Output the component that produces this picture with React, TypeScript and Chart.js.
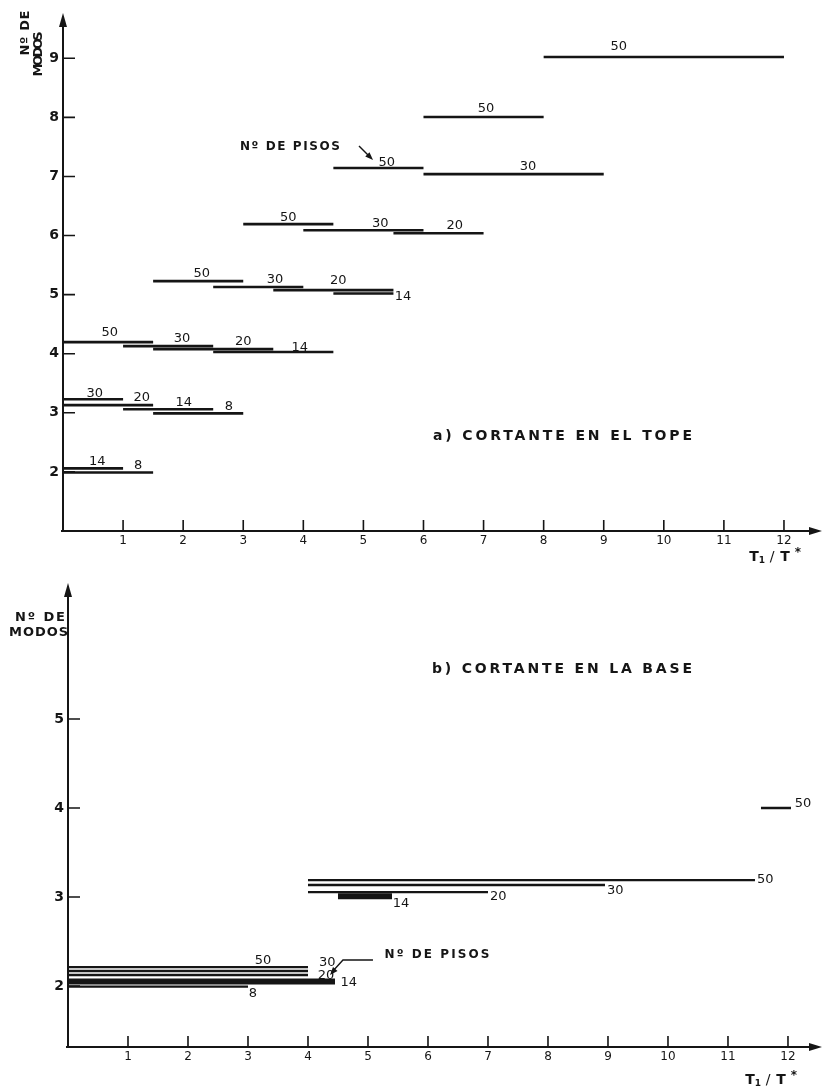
import React, { useEffect, useRef } from "react";
import { Chart, registerables } from "chart.js";

Chart.register(...registerables);

// A segment is [drawn level on the "Nº de modos" axis, T1/T* from, T1/T* to].
type Seg = [number, number, number];
// A tag is [text, T1/T*, level].
type Tag = [string, number, number];

const INK = "#151515";
const FONT = "'DejaVu Sans', 'Liberation Sans', sans-serif";

const floors = ["50", "30", "20", "14", "8"];
const periodTicks = [1, 2, 3, 4, 5, 6, 7, 8, 9, 10, 11, 12];
const topeModeTicks = [2, 3, 4, 5, 6, 7, 8, 9];
const baseModeTicks = [2, 3, 4, 5];

// a) Cortante en el tope: modes needed per building height
const tope50: Seg[] = [[4.196, 0, 1.5], [5.229, 1.5, 3], [6.194, 3, 4.5], [7.142, 4.5, 6], [8.006, 6, 8], [9.022, 8, 12]];
const tope30: Seg[] = [[3.23, 0, 1], [4.128, 1, 2.5], [5.13, 2.5, 4], [6.09, 4, 6], [7.04, 6, 9]];
const tope20: Seg[] = [[3.13, 0, 1.5], [4.077, 1.5, 3.5], [5.076, 3.5, 5.5], [6.04, 5.5, 7]];
const tope14: Seg[] = [[2.06, 0, 1], [3.06, 1, 2.5], [4.03, 2.5, 4.5], [5.02, 4.5, 5.5]];
const tope8: Seg[] = [[1.99, 0, 1.5], [2.99, 1.5, 3]];

const topeTags: Tag[] = [
  ["50", 9.25, 9.19], ["50", 7.04, 8.14], ["50", 5.39, 7.24], ["30", 7.74, 7.17],
  ["50", 3.75, 6.31], ["30", 5.28, 6.21], ["20", 6.52, 6.16],
  ["50", 2.31, 5.35], ["30", 3.53, 5.26], ["20", 4.58, 5.23], ["14", 5.66, 4.97],
  ["50", 0.78, 4.35], ["30", 1.98, 4.26], ["20", 3.0, 4.2], ["14", 3.94, 4.11],
  ["30", 0.53, 3.33], ["20", 1.31, 3.26], ["14", 2.01, 3.18], ["8", 2.76, 3.11],
  ["14", 0.57, 2.18], ["8", 1.25, 2.11],
];

// b) Cortante en la base
const base50: Seg[] = [[2.213, 0, 4], [3.19, 4, 11.45], [4.0, 11.55, 12.05]];
const base30: Seg[] = [[2.169, 0, 4], [3.135, 4, 8.95]];
const base20: Seg[] = [[2.124, 0, 4], [3.056, 4, 7]];
const base14: Seg[] = [[2.052, 0, 4.45], [3.01, 4.5, 5.4]];
const base8: Seg[] = [[1.993, 0, 3]];

const baseTags: Tag[] = [
  ["50", 3.25, 2.29], ["30", 4.32, 2.258], ["20", 4.3, 2.115], ["14", 4.68, 2.034], ["8", 3.08, 1.92],
  ["50", 11.62, 3.19], ["30", 9.12, 3.075], ["20", 7.17, 3.01], ["14", 5.55, 2.93],
  ["50", 12.25, 4.045],
];

function segPoints(segs: Seg[]) {
  const pts: { x: number; y: number | null }[] = [];
  for (const [lv, a, b] of segs) {
    pts.push({ x: a, y: lv }, { x: b, y: lv }, { x: b, y: null });
  }
  return pts;
}

function drawSpaced(ctx: CanvasRenderingContext2D, text: string, cx: number, cy: number, width: number, font: string, angle = 0) {
  ctx.save();
  ctx.font = font;
  (ctx as any).letterSpacing = "0px";
  const w0 = ctx.measureText(text).width;
  const n = [...text].length;
  const sp = n > 1 ? (width - w0) / (n - 1) : 0;
  (ctx as any).letterSpacing = `${sp}px`;
  ctx.translate(cx, cy);
  ctx.rotate(angle);
  ctx.textAlign = "left";
  ctx.textBaseline = "middle";
  ctx.fillText(text, -width / 2, 0);
  ctx.restore();
}

function arrowHead(ctx: CanvasRenderingContext2D, tx: number, ty: number, fx: number, fy: number, len: number, half: number) {
  const ang = Math.atan2(ty - fy, tx - fx);
  const c = Math.cos(ang), s = Math.sin(ang);
  ctx.beginPath();
  ctx.moveTo(tx, ty);
  ctx.lineTo(tx - len * c + half * s, ty - len * s - half * c);
  ctx.lineTo(tx - len * c - half * s, ty - len * s + half * c);
  ctx.closePath();
  ctx.fill();
}

function drawRatioTitle(ctx: CanvasRenderingContext2D, x0: number, cy: number) {
  ctx.save();
  ctx.fillStyle = INK;
  ctx.textAlign = "center";
  ctx.textBaseline = "middle";
  ctx.font = `bold 14px ${FONT}`;
  ctx.fillText("T", x0, cy);
  ctx.font = `bold 9px ${FONT}`;
  ctx.fillText("1", x0 + 8, cy + 4);
  ctx.font = `14px ${FONT}`;
  ctx.fillText("/", x0 + 18, cy);
  ctx.font = `bold 14px ${FONT}`;
  ctx.fillText("T", x0 + 31, cy);
  ctx.font = `bold 12px ${FONT}`;
  ctx.fillText("*", x0 + 44, cy - 4);
  ctx.restore();
}

const frame = {
  id: "frame",
  afterDraw(chart: any) {
    const { ctx, chartArea: a } = chart;
    const x = chart.scales.x, y = chart.scales.y;
    ctx.save();
    ctx.strokeStyle = INK;
    ctx.fillStyle = INK;
    ctx.lineWidth = 2;
    ctx.beginPath();
    ctx.moveTo(a.left, a.bottom + 1);
    ctx.lineTo(a.left, a.top + 8);
    ctx.moveTo(a.left - 2, a.bottom);
    ctx.lineTo(a.right - 8, a.bottom);
    ctx.stroke();
    arrowHead(ctx, a.left, a.top, a.left, a.top + 20, 14, 4);
    arrowHead(ctx, a.right, a.bottom, a.right - 20, a.bottom, 13, 4);
    ctx.lineWidth = 1.6;
    ctx.beginPath();
    for (const t of y.ticks) {
      const py = y.getPixelForValue(t.value);
      ctx.moveTo(a.left, py);
      ctx.lineTo(a.left + 12, py);
    }
    for (const t of x.ticks) {
      const px = x.getPixelForValue(t.value);
      ctx.moveTo(px, a.bottom);
      ctx.lineTo(px, a.bottom - 11);
    }
    ctx.stroke();
    ctx.restore();
  },
};

interface Panel {
  series: Seg[][];
  widths: number[];
  tags: Tag[];
  yTicks: number[];
  xMax: number;
  yMin: number;
  yMax: number;
  axisLeft: number;
  axisBelow: number;
  padTop: number;
  notes: (chart: any) => void;
}

const topePanel: Panel = {
  series: [tope50, tope30, tope20, tope14, tope8],
  widths: [2.6, 2.6, 2.6, 2.6, 2.6],
  tags: topeTags,
  yTicks: topeModeTicks,
  xMax: 12.633,
  yMin: 1,
  yMax: 9.766,
  axisLeft: 63,
  axisBelow: 34,
  padTop: 13,
  notes(chart) {
    const { ctx, chartArea: a } = chart;
    const x = chart.scales.x, y = chart.scales.y;
    ctx.fillStyle = INK;
    ctx.strokeStyle = INK;
    drawSpaced(ctx, "a) CORTANTE EN EL TOPE", x.getPixelForValue(8.314), y.getPixelForValue(2.608), 259, `bold 14px ${FONT}`);
    drawSpaced(ctx, "Nº DE PISOS", x.getPixelForValue(3.778), y.getPixelForValue(7.499), 100, `bold 12px ${FONT}`);
    const fx = x.getPixelForValue(4.927), fy = y.getPixelForValue(7.515);
    const tx = x.getPixelForValue(5.16), ty = y.getPixelForValue(7.278);
    ctx.lineWidth = 1.4;
    ctx.beginPath();
    ctx.moveTo(fx, fy);
    ctx.lineTo(tx - 3, ty - 3);
    ctx.stroke();
    arrowHead(ctx, tx, ty, fx, fy, 8, 3);
    drawSpaced(ctx, "Nº DE", a.left - 37, a.top + 20, 45, `bold 13px ${FONT}`, -Math.PI / 2);
    drawSpaced(ctx, "MODOS", a.left - 24, a.top + 41, 45, `bold 13px ${FONT}`, -Math.PI / 2);
    drawRatioTitle(ctx, a.right - 68, a.bottom + 26);
  },
};

const basePanel: Panel = {
  series: [base50, base30, base20, base14, base8],
  widths: [2.3, 2.3, 2.3, 6, 2.3],
  tags: baseTags,
  yTicks: baseModeTicks,
  xMax: 12.567,
  yMin: 1.315,
  yMax: 6.528,
  axisLeft: 68,
  axisBelow: 43,
  padTop: 18,
  notes(chart) {
    const { ctx, chartArea: a } = chart;
    const x = chart.scales.x, y = chart.scales.y;
    ctx.fillStyle = INK;
    ctx.strokeStyle = INK;
    drawSpaced(ctx, "b) CORTANTE EN LA BASE", x.getPixelForValue(8.233), y.getPixelForValue(5.562), 260, `bold 14px ${FONT}`);
    drawSpaced(ctx, "Nº DE PISOS", x.getPixelForValue(6.15), y.getPixelForValue(2.348), 105, `bold 12px ${FONT}`);
    const p0x = x.getPixelForValue(5.083), p0y = y.getPixelForValue(2.292);
    const p1x = x.getPixelForValue(4.583), p1y = y.getPixelForValue(2.292);
    const tx = x.getPixelForValue(4.367), ty = y.getPixelForValue(2.124);
    ctx.lineWidth = 1.4;
    ctx.beginPath();
    ctx.moveTo(p0x, p0y);
    ctx.lineTo(p1x, p1y);
    ctx.lineTo(tx + 2, ty - 3);
    ctx.stroke();
    arrowHead(ctx, tx, ty, p1x, p1y, 8, 3);
    drawSpaced(ctx, "Nº DE", a.left - 28, a.top + 35, 50, `bold 13px ${FONT}`);
    drawSpaced(ctx, "MODOS", a.left - 29.5, a.top + 50, 59, `bold 13px ${FONT}`);
    drawRatioTitle(ctx, a.right - 72, a.bottom + 33);
  },
};

function makeConfig(p: Panel): any {
  const tagPlugin = {
    id: "tags",
    afterDraw(chart: any) {
      const { ctx } = chart;
      const x = chart.scales.x, y = chart.scales.y;
      ctx.save();
      ctx.fillStyle = INK;
      ctx.font = `13px ${FONT}`;
      ctx.textAlign = "center";
      ctx.textBaseline = "middle";
      for (const [t, tx, ty] of p.tags) {
        ctx.fillText(t, x.getPixelForValue(tx), y.getPixelForValue(ty));
      }
      p.notes(chart);
      ctx.restore();
    },
  };
  return {
    type: "line",
    data: {
      datasets: p.series.map((segs, i) => ({
        label: floors[i],
        data: segPoints(segs),
        borderColor: INK,
        borderWidth: p.widths[i],
        pointRadius: 0,
        tension: 0,
        spanGaps: false,
        fill: false,
      })),
    },
    options: {
      responsive: false,
      animation: false,
      events: [],
      layout: { padding: { left: 0, right: 2, top: p.padTop, bottom: 0 } },
      plugins: { legend: { display: false }, tooltip: { enabled: false } },
      scales: {
        x: {
          type: "linear",
          min: 0,
          max: p.xMax,
          grid: { display: false, drawTicks: false },
          border: { display: false },
          afterFit(s: any) { s.height = p.axisBelow; },
          afterBuildTicks(s: any) { s.ticks = periodTicks.map((v) => ({ value: v })); },
          ticks: {
            autoSkip: false,
            maxRotation: 0,
            padding: 3,
            color: INK,
            font: { family: FONT, size: 12 },
            callback: (v: any) => String(v),
          },
        },
        y: {
          type: "linear",
          min: p.yMin,
          max: p.yMax,
          grid: { display: false, drawTicks: false },
          border: { display: false },
          afterFit(s: any) { s.width = p.axisLeft; },
          afterBuildTicks(s: any) { s.ticks = p.yTicks.map((v) => ({ value: v })); },
          ticks: {
            autoSkip: false,
            padding: 4,
            color: INK,
            font: { family: FONT, size: 14, weight: "bold" },
            callback: (v: any) => String(v),
          },
        },
      },
    },
    plugins: [frame, tagPlugin],
  };
}

export default function App() {
  const topeRef = useRef<HTMLCanvasElement>(null);
  const baseRef = useRef<HTMLCanvasElement>(null);

  useEffect(() => {
    const a = new Chart(topeRef.current!, makeConfig(topePanel));
    const b = new Chart(baseRef.current!, makeConfig(basePanel));
    return () => {
      a.destroy();
      b.destroy();
    };
  }, []);

  return (
    <div style={{ position: "absolute", left: 0, top: 0, width: 824, height: 1090, background: "#fff" }}>
      <canvas ref={topeRef} width={824} height={565} style={{ position: "absolute", left: 0, top: 0 }} />
      <canvas ref={baseRef} width={824} height={525} style={{ position: "absolute", left: 0, top: 565 }} />
    </div>
  );
}
